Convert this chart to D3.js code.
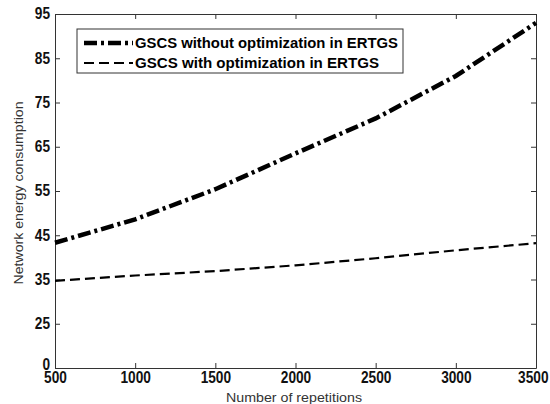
<!DOCTYPE html>
<html>
<head>
<meta charset="utf-8">
<script src="https://cdn.jsdelivr.net/npm/d3@7"></script>
<style>
  body { margin: 0; background: #fff; }
  .tick text { font-family: "Liberation Sans", Arial, sans-serif; font-weight: bold; }
</style>
</head>
<body>
<div id="chart"></div>
<script>
// repetitions on the x axis
var repetitions = [500, 1000, 1500, 2000, 2500, 3000, 3500];
// series values
var withoutOpt = [43.3, 48.6, 55.4, 63.5, 71.4, 81.0, 93.0];
var withOpt = [34.7, 35.9, 36.9, 38.2, 39.8, 41.6, 43.2];
var seriesNames = ["GSCS without optimization in ERTGS", "GSCS with optimization in ERTGS"];
// y ticks (bottom one is labelled 0 in the original)
var yTicks = [15, 25, 35, 45, 55, 65, 75, 85, 95];
var yTickLabels = ["0", "25", "35", "45", "55", "65", "75", "85", "95"];
var xTicks = [500, 1000, 1500, 2000, 2500, 3000, 3500];

var width = 550, height = 404;
var margin = {top: 14, right: 14, bottom: 36, left: 55};

var svg = d3.select("#chart").append("svg")
    .attr("width", width)
    .attr("height", height);

var x = d3.scaleLinear().domain([500, 3500]).range([margin.left, width - margin.right]);
var y = d3.scaleLinear().domain([15, 95]).range([height - margin.bottom, margin.top]);

var axisColor = "#333";
var tickFmt = function (d) { return yTickLabels[yTicks.indexOf(d)]; };

// squeeze the bold digits like the original narrow font
function narrow(sel) {
    sel.attr("font-size", 16).attr("fill", "#111")
        .attr("lengthAdjust", "spacingAndGlyphs")
        .attr("textLength", function () { return this.textContent.length * 7.6; });
}

// box with inner ticks on all sides
svg.append("g")
    .attr("transform", "translate(0," + (height - margin.bottom) + ")")
    .call(d3.axisBottom(x).tickValues(xTicks).tickFormat(d3.format("d")).tickSizeInner(-5).tickSizeOuter(0).tickPadding(5))
    .call(function (g) {
        g.select(".domain").attr("stroke", axisColor);
        g.selectAll(".tick line").attr("stroke", axisColor);
        g.selectAll(".tick text").call(narrow).attr("dy", "0.6em");
        // last label sits against the right edge
        g.selectAll(".tick text").filter(function (d) { return d === 3500; })
            .attr("text-anchor", "end").attr("x", 12);
    });
svg.append("g")
    .attr("transform", "translate(0," + margin.top + ")")
    .call(d3.axisTop(x).tickValues(xTicks).tickFormat("").tickSizeInner(-5).tickSizeOuter(0))
    .call(function (g) {
        g.select(".domain").attr("stroke", axisColor);
        g.selectAll(".tick line").attr("stroke", axisColor);
    });
svg.append("g")
    .attr("transform", "translate(" + margin.left + ",0)")
    .call(d3.axisLeft(y).tickValues(yTicks).tickFormat(tickFmt).tickSizeInner(-5).tickSizeOuter(0).tickPadding(5))
    .call(function (g) {
        g.select(".domain").attr("stroke", axisColor);
        g.selectAll(".tick line").attr("stroke", axisColor);
        g.selectAll(".tick text").call(narrow).attr("dy", "0.3em");
        g.selectAll(".tick text").filter(function (d) { return d === 15; }).attr("dy", "0.1em");
    });
svg.append("g")
    .attr("transform", "translate(" + (width - margin.right) + ",0)")
    .call(d3.axisRight(y).tickValues(yTicks).tickFormat("").tickSizeInner(-5).tickSizeOuter(0))
    .call(function (g) {
        g.select(".domain").attr("stroke", axisColor);
        g.selectAll(".tick line").attr("stroke", axisColor);
    });

// lines
var line = d3.line()
    .x(function (d, i) { return x(repetitions[i]); })
    .y(function (d) { return y(d); });

var styles = [
    {width: 4.5, dash: "13,4,3,4"},
    {width: 2.2, dash: "10,5"}
];

[withoutOpt, withOpt].forEach(function (s, k) {
    svg.append("path")
        .datum(s)
        .attr("fill", "none")
        .attr("stroke", "#000")
        .attr("stroke-width", styles[k].width)
        .attr("stroke-dasharray", styles[k].dash)
        .attr("d", line);
});

// legend
var legendLen = [263, 244];
var legend = svg.append("g").attr("transform", "translate(77,29)");
legend.append("rect")
    .attr("width", 326).attr("height", 44)
    .attr("fill", "#fff").attr("stroke", axisColor).attr("stroke-width", 1);
seriesNames.forEach(function (name, k) {
    var ly = 14 + k * 20;
    legend.append("line")
        .attr("x1", 7).attr("x2", 56).attr("y1", ly).attr("y2", ly)
        .attr("stroke", "#000")
        .attr("stroke-width", styles[k].width)
        .attr("stroke-dasharray", styles[k].dash);
    legend.append("text")
        .attr("x", 58).attr("y", ly + 5)
        .attr("font-family", "Liberation Sans, Arial, sans-serif")
        .attr("font-weight", "bold")
        .attr("font-size", 14)
        .attr("lengthAdjust", "spacingAndGlyphs")
        .attr("textLength", legendLen[k])
        .text(name);
});

// axis titles
svg.append("text")
    .attr("x", 294).attr("y", 402)
    .attr("text-anchor", "middle")
    .attr("font-family", "Liberation Sans, Arial, sans-serif")
    .attr("font-size", 13)
    .attr("fill", "#333")
    .attr("lengthAdjust", "spacingAndGlyphs")
    .attr("textLength", 136)
    .text("Number of repetitions");
svg.append("text")
    .attr("transform", "translate(23,193) rotate(-90)")
    .attr("text-anchor", "middle")
    .attr("font-family", "Liberation Sans, Arial, sans-serif")
    .attr("font-size", 13.5)
    .attr("fill", "#333")
    .attr("lengthAdjust", "spacingAndGlyphs")
    .attr("textLength", 183)
    .text("Network energy consumption");
</script>
</body>
</html>
